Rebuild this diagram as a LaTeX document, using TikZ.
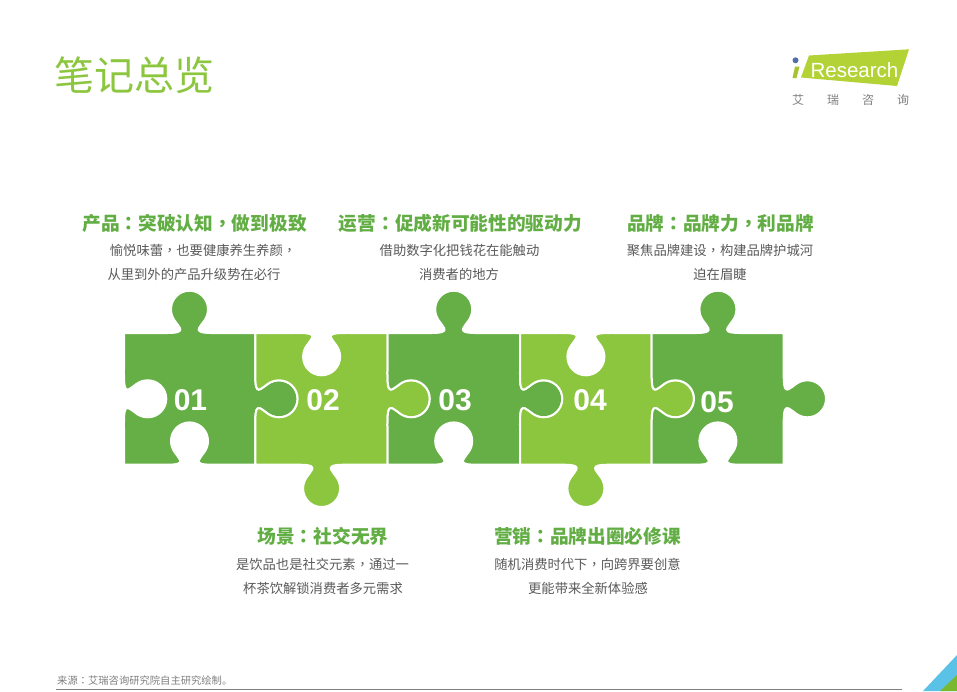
\documentclass[tikz,border=0pt]{standalone}
\usepackage{fontspec}
\setmainfont{Noto Sans CJK SC}
\newfontfamily\tcfont{Noto Sans CJK TC}
\newfontfamily\latinfont{Liberation Sans}
\newcommand\pc[1]{{\tcfont #1}}
\definecolor{darkgr}{HTML}{66AF46}
\definecolor{lightgr}{HTML}{8CC63F}
\definecolor{headgr}{HTML}{62AE45}
\definecolor{bodygr}{HTML}{595959}
\definecolor{footgr}{HTML}{7F7F7F}
\definecolor{logogr}{HTML}{B2D235}
\definecolor{logoi}{HTML}{A6C42F}
\definecolor{logob}{HTML}{4F6FA8}
\definecolor{cornerb}{HTML}{5BC2E7}
\definecolor{cornerg}{HTML}{7AB82F}
% one point of a jigsaw tab, in the local frame of an edge
\newcommand\jp[6]{([shift={(#1,#2)},rotate=#3,yscale=#4]#5,#6)}
% tab (sign +1) or socket (sign -1) centred at (#1,#2), direction #3
\newcommand\jig[4]{-- \jp{#1}{#2}{#3}{#4}{-30}{0}
 .. controls \jp{#1}{#2}{#3}{#4}{-18}{0} and \jp{#1}{#2}{#3}{#4}{-7}{0.5} .. \jp{#1}{#2}{#3}{#4}{-9.6}{-5}
 .. controls \jp{#1}{#2}{#3}{#4}{-12}{-10} and \jp{#1}{#2}{#3}{#4}{-18.5}{-14} .. \jp{#1}{#2}{#3}{#4}{-18.5}{-23.8}
 .. controls \jp{#1}{#2}{#3}{#4}{-18.5}{-34} and \jp{#1}{#2}{#3}{#4}{-10.2}{-42.3} .. \jp{#1}{#2}{#3}{#4}{0}{-42.3}
 .. controls \jp{#1}{#2}{#3}{#4}{10.2}{-42.3} and \jp{#1}{#2}{#3}{#4}{18.5}{-34} .. \jp{#1}{#2}{#3}{#4}{18.5}{-23.8}
 .. controls \jp{#1}{#2}{#3}{#4}{18.5}{-14} and \jp{#1}{#2}{#3}{#4}{12}{-10} .. \jp{#1}{#2}{#3}{#4}{9.6}{-5}
 .. controls \jp{#1}{#2}{#3}{#4}{7}{0.5} and \jp{#1}{#2}{#3}{#4}{18}{0} .. \jp{#1}{#2}{#3}{#4}{30}{0}}
% piece: left, right, centre x, top sign, bottom sign, colour
\newcommand\piece[6]{\path[fill=#6,draw=white,line width=2pt]
  (#1,333) \jig{#3}{333}{0}{#4} -- (#2,333) \jig{#2}{398.8}{-90}{1}
  -- (#2,464.7) \jig{#3}{464.7}{180}{#5} -- (#1,464.7) \jig{#1}{398.8}{90}{-1} -- cycle;}
\tikzset{
  heading/.style={inner sep=0pt,text=headgr,font=\fontsize{18.7}{20}\selectfont\bfseries},
  bodytext/.style={inner sep=0pt,text=bodygr,font=\fontsize{13.3}{15}\selectfont},
  numtext/.style={inner sep=0pt,text=white,font=\fontsize{30}{32}\selectfont\latinfont\bfseries},
}
\begin{document}
\begin{tikzpicture}[x=1pt,y=-1pt]
\useasboundingbox (0,0) rectangle (957,691);
% title
\node[inner sep=0pt,text=lightgr,font=\fontsize{40}{44}\selectfont] (title) at (134,75) {笔记总览};
% logo
\fill[logogr] (909,49.3) -- (809,55.5) -- (801,77.5) -- (897,86) -- cycle;
\fill[logob] (795.5,60.3) circle (3);
\fill[logoi] (795,66.5) -- (799.5,66.5) -- (796.5,78) -- (792.5,78) -- cycle;
\node[inner sep=0pt,text=white,font=\fontsize{20.5}{22}\selectfont\latinfont] (logotext) at (854.5,70.5) {Research};
\node[inner sep=0pt,text=footgr,font=\fontsize{12}{14}\selectfont] (logocn) at (850.5,100)
  {艾\hspace{23pt}瑞\hspace{23pt}咨\hspace{23pt}询};
% puzzle
\piece{124}{255.3}{189.5}{1}{-1}{darkgr}
\piece{255.3}{387.5}{321.6}{-1}{1}{lightgr}
\piece{387.5}{520}{453.7}{1}{-1}{darkgr}
\piece{520}{651.7}{585.9}{-1}{1}{lightgr}
\piece{651.7}{783.7}{717.9}{1}{-1}{darkgr}
\node[numtext] (n1) at (190.5,400.5) {01};
\node[numtext] (n2) at (323,400.5) {02};
\node[numtext] (n3) at (455,400.5) {03};
\node[numtext] (n4) at (590,400.5) {04};
\node[numtext] (n5) at (717,402.5) {05};
% upper texts
\node[heading] (h1) at (194.5,223) {产品\pc{：}突破认知\pc{，}做到极致};
\node[bodytext] (b1a) at (203,250) {愉悦味蕾\pc{，}也要健康养生养颜\pc{，}};
\node[bodytext] (b1b) at (194,274) {从里到外的产品升级势在必行};
\node[heading] (h3) at (460.5,223) {运营\pc{：}促成新可能性的驱动力};
\node[bodytext] (b3a) at (459.5,250) {借助数字化把钱花在能触动};
\node[bodytext] (b3b) at (459,274) {消费者的地方};
\node[heading] (h5) at (720.5,223) {品牌\pc{：}品牌力\pc{，}利品牌};
\node[bodytext] (b5a) at (720,250) {聚焦品牌建设\pc{，}构建品牌护城河};
\node[bodytext] (b5b) at (720,274) {迫在眉睫};
% lower texts
\node[heading] (h2) at (323,536) {场景\pc{：}社交无界};
\node[bodytext] (b2a) at (322.5,564) {是饮品也是社交元素\pc{，}通过一};
\node[bodytext] (b2b) at (323,588) {杯茶饮解锁消费者多元需求};
\node[heading] (h4) at (587.5,536) {营销\pc{：}品牌出圈必修课};
\node[bodytext] (b4a) at (587.5,564) {随机消费时代下\pc{，}向跨界要创意};
\node[bodytext] (b4b) at (588,588) {更能带来全新体验感};
% footer
\node[inner sep=0pt,anchor=west,text=footgr,font=\fontsize{10.3}{12}\selectfont] (foot) at (57,681) {来源\pc{：}艾瑞咨询研究院自主研究绘制。};
\draw[footgr,line width=0.9pt] (56,689.3) -- (902,689.3);
% corner
\fill[cornerb] (957,655) -- (923,691) -- (957,691) -- cycle;
\fill[cornerg] (957,675) -- (940,691) -- (957,691) -- cycle;
\end{tikzpicture}
\end{document}
